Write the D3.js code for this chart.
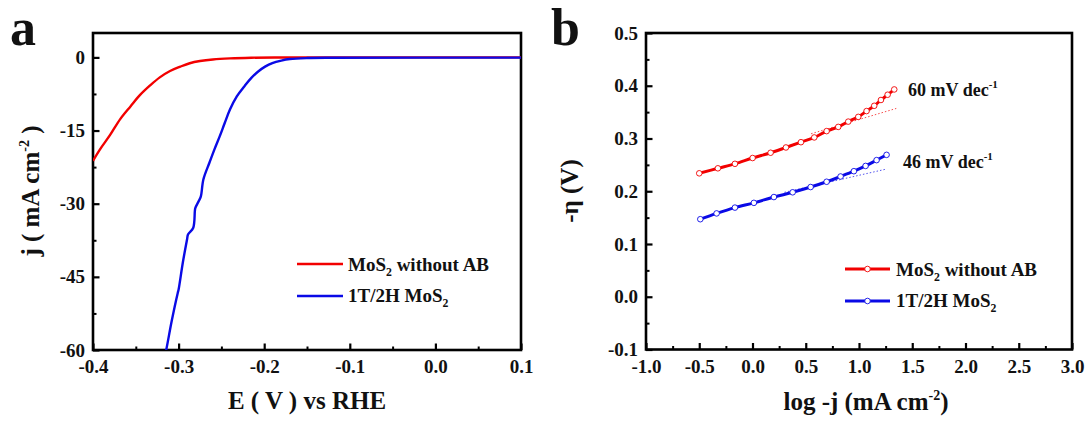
<!DOCTYPE html>
<html>
<head>
<meta charset="utf-8">
<script src="https://cdn.jsdelivr.net/npm/d3@7"></script>
<style>
  body { margin: 0; background: #fff; }
  svg text { font-family: "Liberation Serif", "Times New Roman", serif; font-weight: bold; fill: #111; }
</style>
</head>
<body>
<svg id="chart" width="1091" height="421"></svg>
<script>
// panel a : polarization curves (E vs RHE, j)
var redE  = [-0.400,-0.392,-0.380,-0.368,-0.356,-0.345,-0.333,-0.322,-0.310,-0.298,-0.287,-0.275,-0.260,-0.240,-0.215,-0.180,-0.150,0.100];
var redJ  = [-21.2,-18.9,-15.9,-12.6,-10.0,-7.7,-5.7,-4.1,-2.8,-1.9,-1.2,-0.75,-0.42,-0.2,-0.07,-0.02,0,0];
var blueE = [-0.316,-0.3145,-0.308,-0.301,-0.300,-0.295,-0.290,-0.289,-0.283,-0.281,-0.2805,-0.276,-0.274,-0.271,-0.264,-0.258,-0.252,-0.246,-0.240,-0.232,-0.223,-0.215,-0.207,-0.199,-0.1905,-0.180,-0.170,-0.150,-0.121,0.100];
var blueJ = [-61,-60,-54,-48.3,-47.6,-42,-37.2,-36.3,-35.0,-31.5,-30.9,-29.3,-28.5,-25,-21.6,-18.8,-16.2,-13.4,-10.7,-8.0,-5.9,-4.2,-2.9,-1.9,-1.16,-0.65,-0.34,-0.14,-0.07,-0.05];

// panel b : Tafel plots (log -j, -eta)
var tafRedX  = [-0.500,-0.325,-0.165,0.001,0.170,0.314,0.455,0.580,0.696,0.805,0.899,0.993,1.071,1.143,1.206,1.269,1.331];
var tafRedY  = [0.234,0.2435,0.252,0.263,0.273,0.283,0.293,0.302,0.314,0.322,0.332,0.341,0.352,0.362,0.373,0.383,0.393];
var tafBlueX = [-0.490,-0.337,-0.165,0.013,0.201,0.377,0.546,0.696,0.827,0.952,1.062,1.165,1.259];
var tafBlueY = [0.147,0.158,0.169,0.178,0.189,0.198,0.208,0.218,0.228,0.238,0.248,0.259,0.269];
// Tafel fits (start / end of dotted line)
var fitRedX  = [0.55, 1.35];
var fitRedY  = [0.309, 0.357];
var fitBlueX = [0.30, 1.245];
var fitBlueY = [0.198, 0.2415];

var slopeLabels = ["60 mV dec", "46 mV dec"];

var FONT = '"Liberation Serif", "Times New Roman", serif';
var RED = "#f20000", BLUE = "#0a0ae6";
var svg = d3.select("#chart");

// plain hyphen for negative tick labels, like the original
var loc = d3.formatLocale({ decimal: ".", thousands: ",", grouping: [3], currency: ["", ""], minus: "-" });

function zip(a, b) { return a.map(function(v, i) { return [v, b[i]]; }); }

function styleLabels(g) {
  g.selectAll("text").attr("font-size", 19).attr("font-family", FONT)
    .attr("font-weight", "bold").attr("fill", "#111");
}

function panel(box, xDom, yDom, xMaj, xMin, yMaj, yMin, xFmt, yFmt, id) {
  var x = d3.scaleLinear().domain(xDom).range([box.left, box.right]);
  var y = d3.scaleLinear().domain(yDom).range([box.bottom, box.top]);
  var h = box.bottom - box.top, w = box.right - box.left;

  svg.append("clipPath").attr("id", id)
    .append("rect").attr("x", box.left).attr("y", box.top).attr("width", w).attr("height", h);

  // minor ticks
  svg.append("g").attr("transform", "translate(0," + box.bottom + ")")
    .call(d3.axisBottom(x).tickValues(xMin).tickSize(-3.5).tickFormat(""))
    .call(function(g) { g.select(".domain").remove(); g.selectAll("line").attr("stroke-width", 2); });
  svg.append("g").attr("transform", "translate(" + box.left + ",0)")
    .call(d3.axisLeft(y).tickValues(yMin).tickSize(-3.5).tickFormat(""))
    .call(function(g) { g.select(".domain").remove(); g.selectAll("line").attr("stroke-width", 2); });

  // major ticks + labels
  svg.append("g").attr("transform", "translate(0," + box.bottom + ")")
    .call(d3.axisBottom(x).tickValues(xMaj).tickSizeInner(-6.5).tickSizeOuter(0).tickPadding(10).tickFormat(xFmt))
    .call(function(g) {
      g.select(".domain").remove();
      g.selectAll("line").attr("stroke-width", 2.2);
      styleLabels(g);
    });
  svg.append("g").attr("transform", "translate(" + box.left + ",0)")
    .call(d3.axisLeft(y).tickValues(yMaj).tickSizeInner(-6.5).tickSizeOuter(0).tickPadding(8).tickFormat(yFmt))
    .call(function(g) {
      g.select(".domain").remove();
      g.selectAll("line").attr("stroke-width", 2.2);
      styleLabels(g);
    });

  svg.append("rect").attr("x", box.left).attr("y", box.top).attr("width", w).attr("height", h)
    .attr("fill", "none").attr("stroke", "#000").attr("stroke-width", 2.6);
  return { x: x, y: y };
}

function range(a, b, s) { return d3.range(Math.round((b - a) / s) + 1).map(function(i) { return +(a + i * s).toFixed(4); }); }

// ---------- panel a ----------
var boxA = { left: 93, right: 521, top: 33, bottom: 350 };
var A = panel(boxA, [-0.4, 0.1], [-60, 5],
  range(-0.4, 0.1, 0.1), range(-0.35, 0.05, 0.1),
  range(-60, 0, 15), range(-52.5, -7.5, 15),
  loc.format(".1f"), loc.format("d"), "clipA");

var lineA = d3.line().x(function(d) { return A.x(d[0]); }).y(function(d) { return A.y(d[1]); }).curve(d3.curveCatmullRom);
var gA = svg.append("g").attr("clip-path", "url(#clipA)");
gA.append("path").attr("d", lineA(zip(redE, redJ))).attr("fill", "none").attr("stroke", RED).attr("stroke-width", 2.4);
gA.append("path").attr("d", lineA(zip(blueE, blueJ))).attr("fill", "none").attr("stroke", BLUE).attr("stroke-width", 2.4);

function subText(g, x, y, base, sub, rest, size) {
  var t = g.append("text").attr("x", x).attr("y", y).attr("font-size", size);
  t.append("tspan").text(base);
  t.append("tspan").attr("dy", 5).attr("font-size", size * 0.62).text(sub);
  if (rest) t.append("tspan").attr("dy", -5).text(rest);
  return t;
}

// legend a
[[RED, 264], [BLUE, 296]].forEach(function(d) {
  svg.append("line").attr("x1", 297).attr("x2", 343).attr("y1", d[1]).attr("y2", d[1])
    .attr("stroke", d[0]).attr("stroke-width", 2.4);
});
subText(svg, 348, 271, "MoS", "2", " without AB", 19);
subText(svg, 348, 302, "1T/2H MoS", "2", null, 19);

// axis titles a
svg.append("text").attr("x", 307).attr("y", 409).attr("text-anchor", "middle").attr("font-size", 25)
  .text("E ( V ) vs RHE");
var yta = svg.append("text").attr("transform", "translate(39,191) rotate(-90)").attr("text-anchor", "middle").attr("font-size", 25);
yta.append("tspan").text("j ( mA cm");
yta.append("tspan").attr("dy", -10).attr("font-size", 14).text("-2");
yta.append("tspan").attr("dy", 10).text(" )");

svg.append("text").attr("x", 10).attr("y", 45).attr("font-size", 52).text("a");

// ---------- panel b ----------
var boxB = { left: 646, right: 1072, top: 33, bottom: 349.5 };
var B = panel(boxB, [-1, 3], [-0.1, 0.5],
  range(-1, 3, 0.5), range(-0.75, 2.75, 0.5),
  range(-0.1, 0.5, 0.1), range(-0.05, 0.45, 0.1),
  loc.format(".1f"), loc.format(".1f"), "clipB");

var lineB = d3.line().x(function(d) { return B.x(d[0]); }).y(function(d) { return B.y(d[1]); }).curve(d3.curveCatmullRom);
var gB = svg.append("g").attr("clip-path", "url(#clipB)");
[[fitRedX, fitRedY, RED], [fitBlueX, fitBlueY, BLUE]].forEach(function(s) {
  gB.append("path").attr("d", lineB(zip(s[0], s[1]))).attr("fill", "none")
    .attr("stroke", s[2]).attr("stroke-width", 1).attr("stroke-dasharray", "1.5,2").attr("opacity", 0.7);
});
[[tafRedX, tafRedY, RED], [tafBlueX, tafBlueY, BLUE]].forEach(function(s) {
  var pts = zip(s[0], s[1]);
  gB.append("path").attr("d", lineB(pts)).attr("fill", "none").attr("stroke", s[2]).attr("stroke-width", 3);
  gB.selectAll(null).data(pts).enter().append("circle")
    .attr("cx", function(d) { return B.x(d[0]); }).attr("cy", function(d) { return B.y(d[1]); })
    .attr("r", 2.8).attr("fill", "#fff").attr("stroke", s[2]).attr("stroke-width", 0.9);
});

// slope annotations
function supText(x, y, base, sup) {
  var t = svg.append("text").attr("x", x).attr("y", y).attr("font-size", 18);
  t.append("tspan").text(base);
  t.append("tspan").attr("dy", -8).attr("font-size", 11).text(sup);
}
supText(908, 96, slopeLabels[0], "-1");
supText(903, 168, slopeLabels[1], "-1");

// legend b
[[RED, 269], [BLUE, 301]].forEach(function(d) {
  svg.append("line").attr("x1", 845).attr("x2", 890).attr("y1", d[1]).attr("y2", d[1])
    .attr("stroke", d[0]).attr("stroke-width", 3);
  svg.append("circle").attr("cx", 867.5).attr("cy", d[1]).attr("r", 2.8)
    .attr("fill", "#fff").attr("stroke", d[0]).attr("stroke-width", 0.9);
});
subText(svg, 896, 276, "MoS", "2", " without AB", 19);
subText(svg, 896, 307, "1T/2H MoS", "2", null, 19);

// axis titles b
var xtb = svg.append("text").attr("x", 866).attr("y", 410).attr("text-anchor", "middle").attr("font-size", 25);
xtb.append("tspan").text("log -j (mA cm");
xtb.append("tspan").attr("dy", -10).attr("font-size", 14).text("-2");
xtb.append("tspan").attr("dy", 10).text(")");
svg.append("text").attr("transform", "translate(578,191) rotate(-90)").attr("text-anchor", "middle").attr("font-size", 25)
  .text("-\u03b7 (V)");

svg.append("text").attr("x", 551).attr("y", 45).attr("font-size", 52).text("b");
</script>
</body>
</html>
